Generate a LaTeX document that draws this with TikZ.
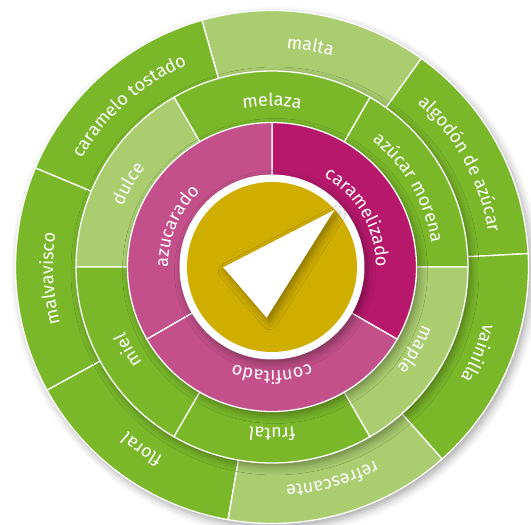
\documentclass[tikz,border=0pt]{standalone}
\usepackage{fontspec}
\setmainfont{Fira Sans}
\usetikzlibrary{decorations.text,shadows.blur}
\definecolor{hoja}{HTML}{7AB82A}
\definecolor{hojaclara}{HTML}{A9CD6F}
\definecolor{fucsia}{HTML}{B7186C}
\definecolor{fucsiaclara}{HTML}{C3508A}
\definecolor{oro}{HTML}{D0AE00}

\begin{document}
\begin{tikzpicture}[line width=1.3pt,
    seg/.style={fill=#1,draw=white},
    sombra/.style={blur shadow={shadow xshift=3pt,shadow yshift=-4pt,
      shadow blur radius=8pt,shadow opacity=35}},
    rotulo/.style={decorate,decoration={text along path,text align=center,
      text color=white,text={|\fontsize{18}{20}\selectfont|#1}}}]
  \useasboundingbox(-272pt,-258pt)rectangle(259pt,267pt);
  \fill[hoja,sombra](0,0)circle(256.5pt);
  \draw[seg=hoja](0,0)--(3:256.5pt)arc[start angle=3,end angle=54.43,radius=256.5pt]--cycle;
  \draw[seg=hojaclara](0,0)--(54.43:256.5pt)arc[start angle=54.43,end angle=105.86,radius=256.5pt]--cycle;
  \draw[seg=hoja](0,0)--(105.86:256.5pt)arc[start angle=105.86,end angle=157.29,radius=256.5pt]--cycle;
  \draw[seg=hoja](0,0)--(157.29:256.5pt)arc[start angle=157.29,end angle=208.71,radius=256.5pt]--cycle;
  \draw[seg=hoja](0,0)--(208.71:256.5pt)arc[start angle=208.71,end angle=260.14,radius=256.5pt]--cycle;
  \draw[seg=hojaclara](0,0)--(260.14:256.5pt)arc[start angle=260.14,end angle=311.57,radius=256.5pt]--cycle;
  \draw[seg=hoja](0,0)--(311.57:256.5pt)arc[start angle=311.57,end angle=363,radius=256.5pt]--cycle;
  \fill[hoja,sombra](0,0)circle(196pt);
  \draw[seg=hoja](0,0)--(0:196pt)arc[start angle=0,end angle=60,radius=196pt]--cycle;
  \draw[seg=hoja](0,0)--(60:196pt)arc[start angle=60,end angle=120,radius=196pt]--cycle;
  \draw[seg=hojaclara](0,0)--(120:196pt)arc[start angle=120,end angle=180,radius=196pt]--cycle;
  \draw[seg=hoja](0,0)--(180:196pt)arc[start angle=180,end angle=240,radius=196pt]--cycle;
  \draw[seg=hoja](0,0)--(240:196pt)arc[start angle=240,end angle=300,radius=196pt]--cycle;
  \draw[seg=hojaclara](0,0)--(300:196pt)arc[start angle=300,end angle=360,radius=196pt]--cycle;
  \fill[fucsia,sombra](0,0)circle(144.5pt);
  \draw[seg=fucsia](0,0)--(-30:144.5pt)arc[start angle=-30,end angle=90,radius=144.5pt]--cycle;
  \draw[seg=fucsiaclara](0,0)--(90:144.5pt)arc[start angle=90,end angle=210,radius=144.5pt]--cycle;
  \draw[seg=fucsiaclara](0,0)--(210:144.5pt)arc[start angle=210,end angle=330,radius=144.5pt]--cycle;
  \fill[white,sombra](0,0)circle(92.5pt);
  \fill[oro](0,0)circle(85pt);
  \fill[white,sombra](-48.7pt,-0.3pt)--(62.3pt,57pt)--(-5.3pt,-50.7pt)--cycle;
  \path[rotulo=algodón de azúcar](54.43:219pt)arc[start angle=54.43,end angle=3,radius=219pt];
  \path[rotulo=malta](105.86:219pt)arc[start angle=105.86,end angle=54.43,radius=219pt];
  \path[rotulo=caramelo tostado](157.29:219pt)arc[start angle=157.29,end angle=105.86,radius=219pt];
  \path[rotulo=malvavisco](208.71:219pt)arc[start angle=208.71,end angle=157.29,radius=219pt];
  \path[rotulo=floral](260.14:219pt)arc[start angle=260.14,end angle=208.71,radius=219pt];
  \path[rotulo=refrescante](311.57:219pt)arc[start angle=311.57,end angle=260.14,radius=219pt];
  \path[rotulo=vainilla](363:219pt)arc[start angle=363,end angle=311.57,radius=219pt];
  \path[rotulo=azúcar morena](60:161pt)arc[start angle=60,end angle=0,radius=161pt];
  \path[rotulo=melaza](120:161pt)arc[start angle=120,end angle=60,radius=161pt];
  \path[rotulo=dulce](180:161pt)arc[start angle=180,end angle=120,radius=161pt];
  \path[rotulo=miel](240:161pt)arc[start angle=240,end angle=180,radius=161pt];
  \path[rotulo=frutal](300:161pt)arc[start angle=300,end angle=240,radius=161pt];
  \path[rotulo=maple](360:161pt)arc[start angle=360,end angle=300,radius=161pt];
  \path[rotulo=caramelizado](90:104pt)arc[start angle=90,end angle=-30,radius=104pt];
  \path[rotulo=azucarado](217:104pt)arc[start angle=217,end angle=97,radius=104pt];
  \path[rotulo=confitado](330:104pt)arc[start angle=330,end angle=210,radius=104pt];
\end{tikzpicture}
\end{document}
